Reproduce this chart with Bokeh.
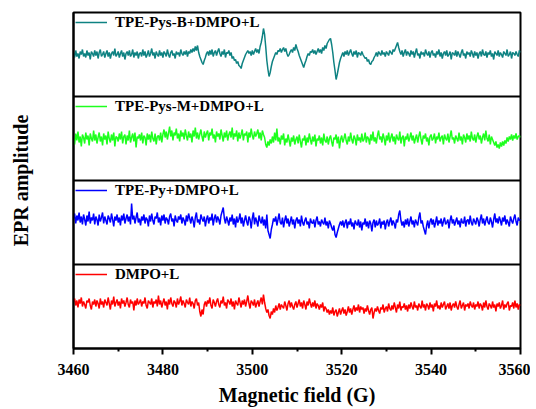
import numpy as np
from bokeh.plotting import figure
from bokeh.models import Range1d, Span, Legend, LegendItem, FixedTicker, ColumnDataSource
from bokeh.embed import file_html
from bokeh.resources import INLINE

# ---- data (amplitudes, arbitrary units) ----
field_start, field_end, n_points = 3460, 3560, 401
x_ticks = [3460, 3480, 3500, 3520, 3540, 3560]
x_minor_ticks = [3470, 3490, 3510, 3530, 3550]

series_names = ["DMPO+L", "TPE-Py+DMPO+L", "TPE-Pys-M+DMPO+L", "TPE-Pys-B+DMPO+L"]
series_colors = ["#ff0000", "#0000ff", "#1eff1e", "#0e8282"]

amp_pys_b = [
    2,-3,4,-2,1,-4,3,0,5,-2,1,-3,4,-1,2,-5,3,1,-2,4,
    -1,3,-4,2,5,-2,0,3,-3,1,4,-2,2,-4,1,3,-1,6,-2,0,
    3,-3,1,4,-2,2,-5,1,3,-1,4,-2,0,5,-3,2,-1,3,-4,1,
    2,-2,5,-1,3,-3,0,4,-2,1,6,-1,2,-4,3,0,-2,4,-1,2,
    -3,3,1,-2,5,0,-3,2,4,-1,1,-4,3,0,2,-2,5,1,-1,3,
    0,4,-2,3,1,5,2,6,3,8,4,9,2,-2,-5,-8,-10,-6,-3,1,
    3,-1,4,0,5,-2,2,4,-1,3,6,1,-2,3,0,5,-3,2,1,4,
    -1,2,-4,-2,-6,-5,-9,-7,-11,-12,-14,-9,-6,-3,0,2,4,1,3,-1,
    4,0,3,6,2,5,1,8,12,18,26,20,8,-6,-15,-22,-18,-12,-7,-4,
    -1,2,0,4,3,6,2,5,7,3,6,1,-2,0,3,5,2,7,4,10,
    6,3,-1,-4,-7,-10,-13,-9,-6,-2,1,-1,3,2,5,1,4,0,3,6,
    2,5,1,7,4,9,6,11,13,15,16,10,2,-8,-16,-25,-20,-14,-8,-4,
    -1,2,-2,3,0,4,-1,2,5,1,-2,3,0,4,-3,2,1,-1,3,0,
    -2,-4,-3,-7,-5,-9,-10,-7,-6,-3,-1,2,-2,3,1,-1,4,0,2,-2,
    3,1,-1,4,2,0,5,3,6,9,12,7,3,0,4,-2,2,5,-1,3,
    1,-2,4,0,3,-3,2,6,-1,1,-4,3,0,2,-2,5,1,-1,3,-3,
    2,4,-1,1,-3,3,0,5,-2,2,-4,1,3,-1,4,-2,0,3,-5,2,
    1,-1,4,-2,3,0,-3,2,5,-1,1,-4,3,0,2,-2,4,1,-3,3,
    -1,2,-4,1,3,-2,5,0,-1,3,-3,2,0,4,-2,1,-5,3,1,-1,
    4,-2,2,0,-3,3,1,-1,5,-2,0,3,-4,2,1,-1,3,0,-2,4,
    2,
]

amp_pys_m = [
    0,-6,5,-2,7,-4,2,-8,4,1,-5,6,-1,3,-7,5,0,-3,8,-2,
    4,-5,1,6,-3,2,-7,5,-1,3,-6,7,0,-4,4,-2,6,-8,2,1,
    -3,5,-1,7,-5,2,4,-6,3,-2,8,-4,1,5,-3,6,-9,2,0,4,
    -2,6,-5,3,1,-7,5,-1,4,-4,7,0,-3,5,-6,2,3,-2,6,-4,
    4,9,1,7,-1,5,12,2,8,-2,6,3,10,0,5,-3,8,2,6,-1,
    9,3,-2,7,1,5,-4,8,2,11,0,6,-1,4,9,2,-3,7,1,5,
    8,-2,6,3,10,0,4,-4,7,2,5,-1,9,3,-3,6,1,8,-2,4,
    7,1,11,-1,5,2,8,-3,6,0,4,9,-2,5,3,7,-4,6,1,10,
    3,-1,7,2,5,9,0,6,-2,8,4,1,-6,-9,-3,-7,-1,-5,2,-4,
    6,-2,10,-3,1,-6,3,-1,5,-7,0,-4,4,-2,-8,1,-3,3,-6,-1,
    2,-5,4,-3,-9,0,-2,3,-7,1,-4,5,-1,-6,2,-3,4,-8,0,-2,
    3,-5,1,-7,5,-2,-4,2,-6,0,3,-3,-8,1,-1,4,-5,2,-10,-1,
    3,-4,0,5,-2,-6,2,-3,6,-1,-5,3,0,-7,4,-2,1,-4,5,-3,
    -1,6,-4,2,0,-6,4,-2,7,-3,1,-5,3,8,-1,2,-4,5,0,-7,
    3,-2,6,-4,1,5,-3,2,-6,4,0,-2,7,-5,1,3,-8,2,-1,5,
    -3,1,6,-2,3,-5,0,4,-4,2,7,-1,-6,3,0,5,-3,1,-7,2,
    4,-2,0,5,-5,2,-1,6,-3,1,3,-6,4,0,-2,5,-4,2,8,-1,
    1,-5,3,0,-3,6,-2,2,-6,4,1,-4,5,-1,3,-3,7,0,-2,4,
    -4,2,6,-1,3,-5,1,5,-2,8,0,-3,4,-6,2,-1,-4,-7,-3,-9,
    -6,-10,-4,-8,-3,-7,-2,-5,1,-3,2,-1,4,-2,3,0,5,-1,2,3,
    1,
]

amp_py = [
    4,9,-1,7,2,10,0,6,-2,8,3,-3,7,1,11,-1,5,2,9,-2,
    6,3,-3,8,1,5,10,-1,6,2,-2,7,4,0,9,3,-4,6,2,8,
    0,5,-3,7,2,9,-1,4,8,1,6,-2,19,3,7,-1,5,10,0,4,
    -3,6,2,8,-1,5,3,-4,7,1,9,2,-2,6,4,10,0,5,-3,7,
    2,8,-1,5,3,-2,6,9,1,4,-4,7,2,0,6,3,8,-1,5,2,
    -3,7,1,9,4,-1,6,2,-5,5,10,0,3,-2,8,4,1,6,-4,3,
    7,-1,5,2,9,-3,4,8,0,6,3,-2,7,11,15,4,-1,6,2,-3,
    5,1,8,-2,4,-5,6,0,3,9,-1,5,-4,2,7,1,-3,6,3,-6,
    4,10,-2,5,1,-4,7,2,-1,6,-3,3,-6,8,-8,-12,-16,-7,-2,4,
    1,6,-3,3,9,0,-2,5,-5,2,7,-1,4,-4,1,6,-2,3,-6,2,
    5,-1,3,-4,7,0,-3,2,5,-2,1,-6,4,0,-1,3,-5,2,6,-2,
    1,-4,3,0,-2,5,-3,1,-6,2,-1,-5,-8,-3,-12,-15,-10,-6,-2,1,
    -3,2,-5,0,3,-6,1,-2,4,-4,0,-7,2,-1,-3,3,-5,1,-8,0,
    -2,4,-4,1,-6,2,-1,-9,0,3,-5,2,-3,-1,4,-6,1,-2,2,-7,
    0,3,-4,1,5,-3,2,-1,-6,3,0,8,12,2,-3,1,-5,3,-2,4,
    -4,1,6,-2,2,-5,3,0,-3,5,10,-1,2,-4,-8,-12,-3,2,-6,1,
    4,-2,3,-5,0,6,-3,2,-1,4,-4,1,5,-2,0,3,-6,2,7,-1,
    3,-3,1,5,-2,2,-5,4,0,-1,6,-4,2,3,-2,7,0,-3,4,1,
    -2,5,2,-4,3,8,-1,4,-3,2,6,0,-2,5,1,-5,3,9,0,4,
    -1,6,2,-3,5,1,7,-2,3,0,-4,6,2,-1,4,8,1,-3,5,2,
    3,
]

amp_dmpo = [
    5,8,1,6,-1,7,3,9,0,5,2,-2,6,4,8,1,-3,5,2,7,
    0,6,3,-2,8,2,5,-1,7,4,1,9,3,-3,6,2,10,0,4,7,
    1,5,-2,8,3,6,0,4,9,2,-1,7,3,5,-4,6,1,8,2,4,
    7,0,5,3,9,1,-2,6,4,2,8,-1,5,3,7,0,11,2,6,-1,
    4,8,1,5,-3,7,2,9,3,0,6,4,-1,8,2,5,10,1,6,3,
    -1,7,4,2,9,0,5,3,-2,6,8,1,4,-5,-10,-3,-8,2,5,0,
    6,3,9,1,-2,7,4,0,5,8,2,-1,6,3,10,1,4,-2,7,5,
    2,8,0,5,-3,6,3,1,9,4,-1,6,2,7,0,5,11,3,-2,6,
    4,1,7,-1,3,6,0,5,9,2,12,4,-2,-6,-3,-9,-12,-5,-8,-2,
    -6,1,-4,-1,3,-3,2,0,-2,5,1,-4,3,6,-1,4,0,-3,2,5,
    -1,3,7,0,4,-2,6,2,-3,5,1,8,3,-1,4,0,6,-2,3,1,
    -3,2,-1,4,-5,0,-2,-6,-3,-8,-4,-7,-1,-9,-5,-3,-10,-6,-2,-8,
    -4,-1,-7,-3,-9,-5,0,-6,-2,-8,-3,1,-5,-1,-4,2,-6,0,-3,-1,
    -7,-2,-5,1,-4,-8,-3,-1,-12,-6,-2,-5,0,-4,-7,-1,-3,2,-6,-2,
    0,-5,3,-2,-4,1,-3,4,-1,-6,2,-2,5,-4,0,-1,3,-3,1,-5,
    2,-2,4,0,-3,5,-1,1,-4,3,0,-2,6,-1,2,-4,3,1,-3,4,
    -1,2,-5,3,0,6,-2,1,-3,4,-1,2,5,-3,0,3,-2,4,-4,1,
    3,-1,5,0,-3,2,6,-2,1,4,-4,2,0,3,-2,5,1,-1,4,-3,
    2,0,5,-2,3,1,-4,4,-1,6,0,-3,3,1,-2,5,-1,2,-5,3,
    0,4,-2,1,6,-3,2,-1,3,5,-4,1,0,4,-2,6,-1,3,-3,2,
    1,
]

series_amps = [amp_dmpo, amp_py, amp_pys_m, amp_pys_b]

# ---- figure ----
FONT = "Liberation Serif"
panel_px = 84.0  # amplitude unit -> fraction of a panel
FRAME_W, FRAME_H = 447, 336

p = figure(width=530, height=408, frame_width=FRAME_W, frame_height=FRAME_H,
           output_backend="svg", toolbar_location=None,
           x_range=Range1d(field_start, field_end), y_range=Range1d(0, 4),
           min_border_left=73, min_border_top=12, min_border_right=10, min_border_bottom=60)
p.xgrid.visible = False
p.ygrid.visible = False
p.outline_line_color = "black"
p.outline_line_width = 2
p.background_fill_color = "white"
p.border_fill_color = "white"

field = np.linspace(field_start, field_end, n_points)
for k, (name, color, amps) in enumerate(zip(series_names, series_colors, series_amps)):
    y = k + 0.5 + np.array(amps, dtype=float) / panel_px
    src = ColumnDataSource(dict(x=field, y=y))
    r = p.line("x", "y", source=src, line_color=color, line_width=1.5)
    top_from_frame_top = (3 - k) * FRAME_H / 4
    leg = Legend(items=[LegendItem(label=name, renderers=[r])],
                 location=(2, FRAME_H - top_from_frame_top - 20),
                 padding=0, margin=0, spacing=0,
                 glyph_width=32, glyph_height=20, label_height=20,
                 label_standoff=8, border_line_color=None,
                 background_fill_alpha=0,
                 label_text_font=FONT, label_text_font_style="bold",
                 label_text_font_size="15px", label_text_color="black")
    p.add_layout(leg, "center")

for sep in [1, 2, 3]:
    p.add_layout(Span(location=sep, dimension="width", line_color="black", line_width=2))

# x axis
p.xaxis.ticker = FixedTicker(ticks=x_ticks, minor_ticks=x_minor_ticks)
p.xaxis.axis_line_width = 2
p.xaxis.major_tick_in = 0
p.xaxis.major_tick_out = 6
p.xaxis.major_tick_line_width = 2
p.xaxis.minor_tick_in = 0
p.xaxis.minor_tick_out = 3
p.xaxis.minor_tick_line_width = 2
p.xaxis.major_label_text_font = FONT
p.xaxis.major_label_text_font_style = "bold"
p.xaxis.major_label_text_font_size = "16px"
p.xaxis.major_label_text_color = "black"
p.xaxis.major_label_standoff = 9
p.xaxis.axis_label = "Magnetic field (G)"
p.xaxis.axis_label_text_font = FONT
p.xaxis.axis_label_text_font_style = "bold"
p.xaxis.axis_label_text_font_size = "20px"
p.xaxis.axis_label_text_color = "black"
p.xaxis.axis_label_standoff = 6

# y axis
p.yaxis.ticker = FixedTicker(ticks=[])
p.yaxis.axis_line_width = 2
p.yaxis.major_tick_out = 0
p.yaxis.major_tick_in = 0
p.yaxis.minor_tick_out = 0
p.yaxis.major_label_text_font_size = "0px"
p.yaxis.axis_label = "EPR amplitude"
p.yaxis.axis_label_text_font = FONT
p.yaxis.axis_label_text_font_style = "bold"
p.yaxis.axis_label_text_font_size = "20px"
p.yaxis.axis_label_text_color = "black"
p.yaxis.axis_label_standoff = 42

open("out.html", "w").write(file_html(p, INLINE))
